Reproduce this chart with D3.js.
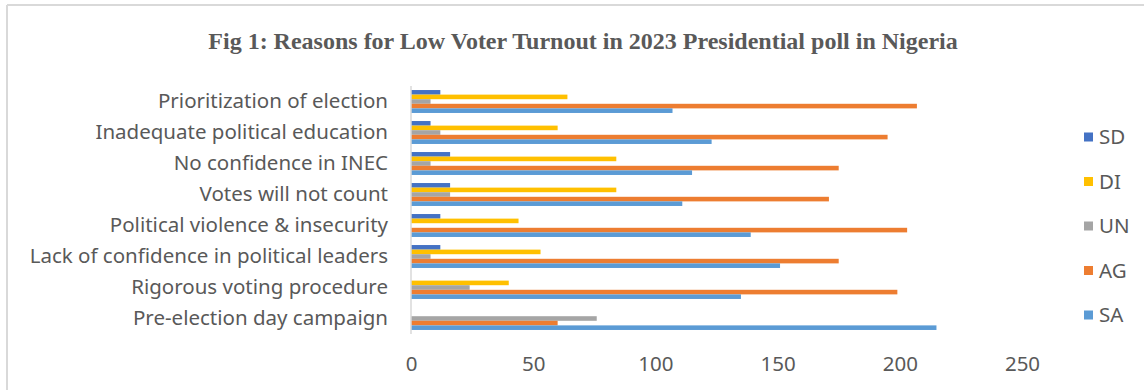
<!DOCTYPE html>
<html>
<head>
<meta charset="utf-8">
<script src="https://cdn.jsdelivr.net/npm/d3@7"></script>
<style>
  html, body { margin: 0; padding: 0; background: #fff; }
  #chart text { font-family: "Noto Sans", "Open Sans", sans-serif; fill: #595959; }
  #chart .title { font-family: "Liberation Serif", "Times New Roman", serif; font-weight: bold; }
</style>
</head>
<body>
<div id="chart"></div>
<script>
// -----------------------------------------------------------------------------
// Data (top to bottom as shown)
// -----------------------------------------------------------------------------

var categories = [
  "Prioritization of election",
  "Inadequate political education",
  "No confidence in INEC",
  "Votes will not count",
  "Political violence & insecurity",
  "Lack of confidence in political leaders",
  "Rigorous voting procedure",
  "Pre-election day campaign"
];

var seriesNames = ["SD", "DI", "UN", "AG", "SA"];

var sdValues = [12, 8, 16, 16, 12, 12, 0, 0];
var diValues = [64, 60, 84, 84, 44, 53, 40, 0];
var unValues = [8, 12, 8, 16, 0, 8, 24, 76];
var agValues = [207, 195, 175, 171, 203, 175, 199, 60];
var saValues = [107, 123, 115, 111, 139, 151, 135, 215];

var xTicks = [0, 50, 100, 150, 200, 250];

var seriesColors = {
  SD: "#4472C4",
  DI: "#FFC000",
  UN: "#A5A5A5",
  AG: "#ED7D31",
  SA: "#5B9BD5"
};

var TITLE = "Fig 1: Reasons for Low Voter Turnout in 2023 Presidential poll in Nigeria";

// -----------------------------------------------------------------------------
// Drawing
// -----------------------------------------------------------------------------

var width = 1144;
var height = 390;
var plot = {left: 411, right: 1022, top: 86, bottom: 334};
var LABEL_SIZE = "20.5px";

var valuesBySeries = {SD: sdValues, DI: diValues, UN: unValues, AG: agValues, SA: saValues};

var rows = categories.map(function(c, i) {
  return {
    category: c,
    values: seriesNames.map(function(s) { return {key: s, value: valuesBySeries[s][i]}; })
  };
});

var svg = d3.select("#chart").append("svg")
    .attr("width", width)
    .attr("height", height);

// chart frame (only top and left edges visible)
svg.append("line")
    .attr("x1", 7).attr("x2", width)
    .attr("y1", 5).attr("y2", 5)
    .attr("stroke", "#d9d9d9")
    .attr("stroke-width", 2);

svg.append("line")
    .attr("x1", 7).attr("x2", 7)
    .attr("y1", 5).attr("y2", height)
    .attr("stroke", "#d9d9d9")
    .attr("stroke-width", 2);

svg.append("text")
    .attr("class", "title")
    .attr("x", 583)
    .attr("y", 49)
    .attr("text-anchor", "middle")
    .style("font-size", "24px")
    .text(TITLE);

var xScale = d3.scaleLinear()
    .domain([0, 250])
    .range([plot.left, plot.right]);

var yScale = d3.scaleBand()
    .domain(categories)
    .range([plot.top, plot.bottom])
    .paddingInner(0.26)
    .paddingOuter(0.13);

var ySub = d3.scaleBand()
    .domain(seriesNames)
    .range([0, yScale.bandwidth()]);

var groups = svg.append("g")
    .selectAll("g")
    .data(rows)
  .enter().append("g")
    .attr("transform", function(d) { return "translate(0," + yScale(d.category) + ")"; });

groups.selectAll("rect")
    .data(function(d) { return d.values.filter(function(v) { return v.value > 0; }); })
  .enter().append("rect")
    .attr("x", xScale(0))
    .attr("y", function(d) { return ySub(d.key); })
    .attr("width", function(d) { return xScale(d.value) - xScale(0); })
    .attr("height", ySub.bandwidth())
    .attr("fill", function(d) { return seriesColors[d.key]; });

// vertical axis line
svg.append("line")
    .attr("x1", xScale(0)).attr("x2", xScale(0))
    .attr("y1", plot.top).attr("y2", plot.bottom)
    .attr("stroke", "#d9d9d9")
    .attr("stroke-width", 1.5);

// category labels
var yAxis = svg.append("g")
    .attr("transform", "translate(" + (plot.left - 23) + ",0)")
    .call(d3.axisLeft(yScale).tickSize(0).tickPadding(0));
yAxis.select(".domain").remove();
yAxis.selectAll("text")
    .attr("fill", "#595959")
    .style("font-size", LABEL_SIZE);

// value axis labels
var xAxis = svg.append("g")
    .attr("transform", "translate(0," + 356 + ")")
    .call(d3.axisBottom(xScale).tickValues(xTicks).tickSize(0).tickPadding(0));
xAxis.select(".domain").remove();
xAxis.selectAll("text")
    .attr("fill", "#595959")
    .style("font-size", LABEL_SIZE);

// legend
var legendY = d3.scalePoint()
    .domain(seriesNames)
    .range([137, 315]);

var legend = svg.append("g")
    .selectAll("g")
    .data(seriesNames)
  .enter().append("g")
    .attr("transform", function(d) { return "translate(1084," + legendY(d) + ")"; });

legend.append("rect")
    .attr("x", 0)
    .attr("y", -4.5)
    .attr("width", 9)
    .attr("height", 9)
    .attr("fill", function(d) { return seriesColors[d]; });

legend.append("text")
    .attr("x", 15)
    .attr("dy", "0.35em")
    .style("font-size", LABEL_SIZE)
    .text(function(d) { return d; });
</script>
</body>
</html>
